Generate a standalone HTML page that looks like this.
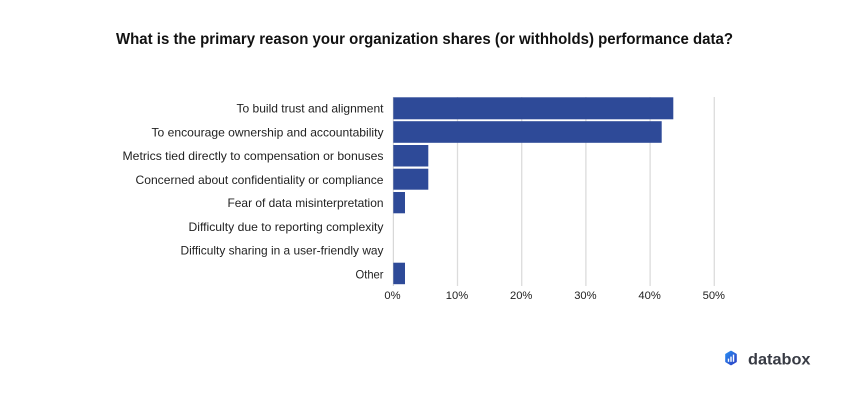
<!DOCTYPE html>
<html><head><meta charset="utf-8"><style>
html,body{margin:0;padding:0;background:#fff;}
svg{display:block;}
</style></head><body>
<svg width="850" height="400" viewBox="0 0 850 400" xmlns="http://www.w3.org/2000/svg" font-family="Liberation Sans, Arial, sans-serif">
<rect width="850" height="400" fill="#fff"/>
<text x="116" y="44" font-size="15.5" font-weight="bold" fill="#111" textLength="617" lengthAdjust="spacingAndGlyphs">What is the primary reason your organization shares (or withholds) performance data?</text>
<!-- gridlines -->
<g stroke="#dcdcdc" stroke-width="1.3">
<line x1="457.5" y1="97" x2="457.5" y2="286"/>
<line x1="521.7" y1="97" x2="521.7" y2="286"/>
<line x1="585.9" y1="97" x2="585.9" y2="286"/>
<line x1="650.1" y1="97" x2="650.1" y2="286"/>
<line x1="714.3" y1="97" x2="714.3" y2="286"/>
</g>
<line x1="393.3" y1="97" x2="393.3" y2="286" stroke="#cfcfcf" stroke-width="1"/>
<!-- bars -->
<g fill="#2e4a98">
<rect x="393.3" y="97.3" width="280" height="22"/>
<rect x="393.3" y="121.2" width="268.4" height="21.6"/>
<rect x="393.3" y="145" width="35" height="21.5"/>
<rect x="393.3" y="168.7" width="35" height="21"/>
<rect x="393.3" y="192" width="11.7" height="21.3"/>
<rect x="393.3" y="262.7" width="11.7" height="21.5"/>
</g>
<!-- labels -->
<g font-size="12" fill="#222" text-anchor="end">
<text x="383.5" y="112.5" textLength="147" lengthAdjust="spacingAndGlyphs">To build trust and alignment</text>
<text x="383.5" y="136.3" textLength="232" lengthAdjust="spacingAndGlyphs">To encourage ownership and accountability</text>
<text x="383.5" y="160" textLength="261" lengthAdjust="spacingAndGlyphs">Metrics tied directly to compensation or bonuses</text>
<text x="383.5" y="183.8" textLength="248" lengthAdjust="spacingAndGlyphs">Concerned about confidentiality or compliance</text>
<text x="383.5" y="207" textLength="156" lengthAdjust="spacingAndGlyphs">Fear of data misinterpretation</text>
<text x="383.5" y="230.8" textLength="195" lengthAdjust="spacingAndGlyphs">Difficulty due to reporting complexity</text>
<text x="383.5" y="254.5" textLength="203" lengthAdjust="spacingAndGlyphs">Difficulty sharing in a user-friendly way</text>
<text x="383.5" y="278.3" textLength="28" lengthAdjust="spacingAndGlyphs">Other</text>
</g>
<!-- ticks -->
<g font-size="11.2" fill="#222" text-anchor="middle">
<text x="392.5" y="298.8">0%</text>
<text x="457" y="298.8">10%</text>
<text x="521.2" y="298.8">20%</text>
<text x="585.4" y="298.8">30%</text>
<text x="649.6" y="298.8">40%</text>
<text x="713.8" y="298.8">50%</text>
</g>
<!-- databox logo -->
<defs><linearGradient id="g" x1="0" y1="0" x2="1" y2="1"><stop offset="0" stop-color="#2a8cf0"/><stop offset="1" stop-color="#2b3fc4"/></linearGradient></defs>
<path d="M731,351.5 l5,2.9 v7.2 l-5,2.9 l-5,-2.9 v-7.2 z" fill="url(#g)" stroke="url(#g)" stroke-width="1.6" stroke-linejoin="round"/>
<rect x="727.8" y="358.6" width="1.4" height="3.2" fill="#fff"/>
<rect x="730.3" y="356.6" width="1.4" height="5.2" fill="#fff"/>
<rect x="732.8" y="354.6" width="1.4" height="7.2" fill="#fff"/>
<text x="748" y="364.3" font-size="15.5" font-weight="bold" fill="#383b44" textLength="62.5" lengthAdjust="spacingAndGlyphs">databox</text>
</svg>
</body></html>
